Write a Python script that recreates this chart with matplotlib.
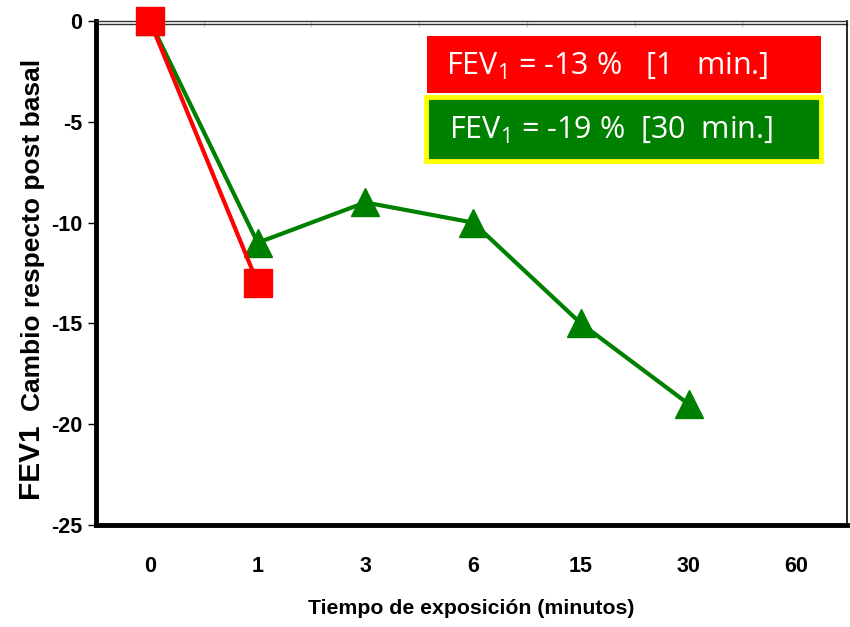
import matplotlib
matplotlib.use("Agg")
import matplotlib.pyplot as plt
from matplotlib.patches import Rectangle
from matplotlib.lines import Line2D

# Exposure times (categorical axis) and FEV1 change values
time_labels = ["0", "1", "3", "6", "15", "30", "60"]
red_idx = [0, 1]
red_vals = [0, -13]
green_idx = [0, 1, 2, 3, 4, 5]
green_vals = [0, -11, -9, -10, -15, -19]
y_ticks = [0, -5, -10, -15, -20, -25]

RED = "#ff0000"
GREEN = "#008000"

plt.rcParams["font.family"] = ["Liberation Sans", "DejaVu Sans"]
plt.rcParams["axes.unicode_minus"] = False

fig = plt.figure(figsize=(8.5, 6.27), dpi=100)
ax = fig.add_axes([96 / 850, 102 / 627, 751 / 850, 504 / 627])

ax.plot(green_idx, green_vals, color=GREEN, lw=3, marker="^", ms=20,
        markeredgecolor=GREEN, clip_on=False, zorder=3)
ax.plot(red_idx, red_vals, color=RED, lw=3, marker="s", ms=19.5,
        markeredgecolor=RED, clip_on=False, zorder=4)

ax.set_xlim(-0.5, 6.47)
ax.set_ylim(-25, 0)
ax.set_xticks(range(len(time_labels)))
ax.set_xticklabels(time_labels)
ax.set_yticks(y_ticks)
ax.tick_params(axis="x", length=0, pad=22)
ax.tick_params(axis="y", length=6, width=1, direction="out", pad=4)
for lab in ax.get_xticklabels() + ax.get_yticklabels():
    lab.set_fontweight("bold")
    lab.set_fontsize(15.5)

for side in ("left", "bottom"):
    ax.spines[side].set_linewidth(3.5)
    ax.spines[side].set_color("black")
ax.spines["right"].set_linewidth(1.2)
ax.spines["top"].set_linewidth(1.0)
ax.spines["top"].set_color("#333333")
# double rule along the top edge
ax.add_line(Line2D([0, 1], [1 - 3 / 504, 1 - 3 / 504], transform=ax.transAxes,
                   color="#333333", lw=1.0, clip_on=False))
# small separators between categories on the top edge
ax.set_xticks([i + 0.5 for i in range(6)], minor=True)
ax.tick_params(axis="x", which="minor", top=True, bottom=False, direction="in",
               length=4, width=1, color="#cccccc")

ax.set_xlabel("Tiempo de exposición (minutos)", fontsize=15.3, fontweight="bold",
              labelpad=16)

# Y axis title in two parts
fig.text(30 / 850, 1 - 461 / 627, "FEV1", rotation=90, ha="center", va="center",
         fontsize=21.5, fontweight="bold")
fig.text(33 / 850, 1 - 235 / 627, "Cambio respecto post basal", rotation=90,
         ha="center", va="center", fontsize=19, fontweight="bold")

# Result boxes
def px_rect(x0, y0, x1, y1, **kw):
    return Rectangle((x0 / 850, 1 - y1 / 627), (x1 - x0) / 850, (y1 - y0) / 627,
                     transform=fig.transFigure, **kw)

fig.patches.append(px_rect(427, 36, 821, 93, facecolor=RED, edgecolor="none"))
fig.patches.append(px_rect(426, 97, 821, 161, facecolor=GREEN,
                           edgecolor="#ffff00", linewidth=3.5))

box_font = ["Open Sans", "DejaVu Sans"]
fig.text(446 / 850, 1 - 66 / 627, r"FEV$_{\mathregular{1}}$ = -13 %   [1   min.]",
         color="white", fontsize=22, ha="left", va="center", family=box_font)
fig.text(449 / 850, 1 - 130 / 627, r"FEV$_{\mathregular{1}}$ = -19 %  [30  min.]",
         color="white", fontsize=22, ha="left", va="center", family=box_font)

fig.savefig("out.png", dpi=100)
